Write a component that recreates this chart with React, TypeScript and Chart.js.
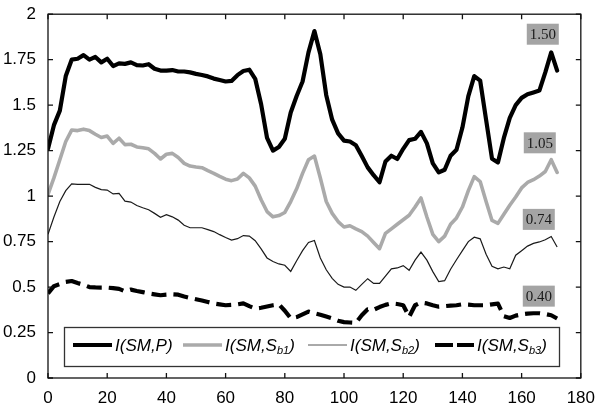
import { useEffect, useRef } from "react";
import { Chart, registerables } from "chart.js";

Chart.register(...registerables);

// Time index (horizontal axis)
const steps = [
  0, 2, 4, 6, 8, 10, 12, 14, 16, 18, 20, 22, 24, 26, 28, 30, 32, 34, 36, 38,
  40, 42, 44, 46, 48, 50, 52, 54, 56, 58, 60, 62, 64, 66, 68, 70, 72, 74, 76, 78,
  80, 82, 84, 86, 88, 90, 92, 94, 96, 98, 100, 102, 104, 106, 108, 110, 112, 114, 116, 118,
  120, 122, 124, 126, 128, 130, 132, 134, 136, 138, 140, 142, 144, 146, 148, 150, 152, 154, 156, 158,
  160, 162, 164, 166, 168, 170, 172,
];

// I(SM,P)
const seriesP = [
  1.26, 1.39, 1.47, 1.66, 1.75, 1.755, 1.775, 1.75, 1.765, 1.735, 1.755, 1.715, 1.73, 1.727, 1.735, 1.72, 1.718, 1.725, 1.70, 1.69,
  1.69, 1.693, 1.685, 1.685, 1.68, 1.672, 1.666, 1.658, 1.646, 1.638, 1.63, 1.633, 1.665, 1.688, 1.695, 1.645, 1.505, 1.32, 1.25, 1.27,
  1.315, 1.46, 1.55, 1.63, 1.79, 1.907, 1.78, 1.555, 1.42, 1.345, 1.305, 1.30, 1.28, 1.22, 1.158, 1.115, 1.076, 1.19, 1.222, 1.204,
  1.26, 1.308, 1.315, 1.353, 1.29, 1.18, 1.13, 1.145, 1.222, 1.255, 1.377, 1.55, 1.66, 1.635, 1.42, 1.205, 1.185, 1.32, 1.43, 1.50,
  1.54, 1.56, 1.57, 1.58, 1.68, 1.79, 1.69,
];

// I(SM,S_b1)
const seriesSb1 = [
  1.01, 1.10, 1.20, 1.30, 1.363, 1.36, 1.368, 1.36, 1.34, 1.322, 1.33, 1.29, 1.318, 1.283, 1.285, 1.27, 1.266, 1.26, 1.235, 1.204,
  1.23, 1.235, 1.212, 1.18, 1.165, 1.16, 1.156, 1.14, 1.125, 1.108, 1.093, 1.085, 1.094, 1.125, 1.10, 1.055, 0.98, 0.915, 0.886, 0.893,
  0.91, 0.97, 1.04, 1.125, 1.20, 1.22, 1.10, 0.97, 0.905, 0.86, 0.83, 0.837, 0.82, 0.805, 0.78, 0.745, 0.711, 0.795, 0.82, 0.845,
  0.87, 0.895, 0.94, 0.99, 0.885, 0.79, 0.75, 0.78, 0.845, 0.88, 0.94, 1.03, 1.107, 1.08, 0.97, 0.866, 0.85, 0.90, 0.95, 0.995,
  1.045, 1.075, 1.09, 1.11, 1.135, 1.20, 1.13,
];

// I(SM,S_b2)
const seriesSb2 = [
  0.79, 0.885, 0.97, 1.03, 1.067, 1.065, 1.065, 1.065, 1.048, 1.036, 1.033, 1.012, 1.015, 0.972, 0.967, 0.948, 0.936, 0.925, 0.905, 0.884,
  0.898, 0.886, 0.868, 0.84, 0.826, 0.826, 0.826, 0.816, 0.805, 0.788, 0.772, 0.758, 0.766, 0.783, 0.78, 0.755, 0.71, 0.66, 0.64, 0.627,
  0.62, 0.586, 0.645, 0.70, 0.745, 0.756, 0.66, 0.595, 0.548, 0.515, 0.50, 0.50, 0.482, 0.515, 0.546, 0.52, 0.52, 0.56, 0.60, 0.605,
  0.618, 0.592, 0.648, 0.692, 0.648, 0.585, 0.53, 0.535, 0.598, 0.65, 0.70, 0.75, 0.774, 0.765, 0.68, 0.614, 0.60, 0.61, 0.60, 0.675,
  0.70, 0.725, 0.74, 0.748, 0.76, 0.778, 0.72,
];

// I(SM,S_b3)
const seriesSb3 = [
  0.465, 0.505, 0.516, 0.528, 0.533, 0.522, 0.512, 0.50, 0.498, 0.497, 0.497, 0.494, 0.49, 0.477, 0.486, 0.478, 0.472, 0.465, 0.46, 0.455,
  0.458, 0.46, 0.458, 0.448, 0.44, 0.433, 0.426, 0.418, 0.41, 0.405, 0.40, 0.402, 0.405, 0.41, 0.395, 0.382, 0.386, 0.393, 0.40, 0.405,
  0.37, 0.328, 0.335, 0.35, 0.365, 0.356, 0.348, 0.338, 0.328, 0.315, 0.307, 0.305, 0.303, 0.345, 0.378, 0.375, 0.39, 0.402, 0.41, 0.407,
  0.40, 0.336, 0.40, 0.415, 0.41, 0.40, 0.392, 0.395, 0.398, 0.40, 0.405, 0.403, 0.40, 0.40, 0.40, 0.405, 0.409, 0.34, 0.33, 0.343,
  0.35, 0.354, 0.356, 0.356, 0.352, 0.345, 0.327,
];

// Mean value tags shown at the right end of each curve
const meanTags = ["1.50", "1.05", "0.74", "0.40"];

const xTicks = [0, 20, 40, 60, 80, 100, 120, 140, 160, 180];
const xTickLabels = ["0", "20", "40", "60", "80", "100", "120", "140", "160", "180"];
const yTicks = [0, 0.25, 0.5, 0.75, 1, 1.25, 1.5, 1.75, 2];
const yTickLabels = ["0", "0.25", "0.5", "0.75", "1", "1.25", "1.5", "1.75", "2"];

const SANS = "'Liberation Sans', Arial, Helvetica, sans-serif";
const SERIF = "'Liberation Serif', 'Times New Roman', serif";

const toPoints = (vals: number[]) => steps.map((x, i) => ({ x, y: vals[i] }));

// Boxed axes with inward ticks on all four sides
const framePlugin = {
  id: "frameTicks",
  afterDatasetsDraw(chart: any) {
    const { ctx, chartArea, scales } = chart;
    const { left, right, top, bottom } = chartArea;
    const tl = 5;
    ctx.save();
    ctx.strokeStyle = "#111";
    ctx.lineWidth = 1.3;
    ctx.beginPath();
    xTicks.forEach((v) => {
      const px = scales.x.getPixelForValue(v);
      ctx.moveTo(px, bottom);
      ctx.lineTo(px, bottom - tl);
      ctx.moveTo(px, top);
      ctx.lineTo(px, top + tl);
    });
    yTicks.forEach((v) => {
      const py = scales.y.getPixelForValue(v);
      ctx.moveTo(left, py);
      ctx.lineTo(left + tl, py);
      ctx.moveTo(right, py);
      ctx.lineTo(right - tl, py);
    });
    ctx.stroke();
    ctx.strokeRect(left, top, right - left, bottom - top);
    ctx.restore();
  },
};

// Grey value tags anchored in data coordinates
const tagPlugin = {
  id: "meanTags",
  afterDraw(chart: any) {
    const { ctx, scales } = chart;
    const anchorX = 165.8;
    const anchorY = [1.89, 1.293, 0.872, 0.45];
    ctx.save();
    ctx.font = `15px ${SERIF}`;
    ctx.textAlign = "center";
    ctx.textBaseline = "middle";
    meanTags.forEach((t, i) => {
      const cx = scales.x.getPixelForValue(anchorX) + (i === 0 ? 4 : i === 1 ? 1 : 0);
      const cy = scales.y.getPixelForValue(anchorY[i]);
      const w = 32;
      const h = 21;
      ctx.fillStyle = "#a4a4a4";
      ctx.fillRect(cx - w / 2, cy - h / 2, w, h);
      ctx.fillStyle = "#1a1a1a";
      ctx.fillText(t, cx, cy + 1);
    });
    ctx.restore();
  },
};

// Legend with subscripted labels, boxed inside the plot
const legendPlugin = {
  id: "subLegend",
  afterDraw(chart: any) {
    const { ctx } = chart;
    const bx = 64.5;
    const by = 327.5;
    const bw = 495;
    const bh = 39;
    ctx.save();
    ctx.fillStyle = "#fff";
    ctx.fillRect(bx, by, bw, bh);
    ctx.strokeStyle = "#333";
    ctx.lineWidth = 1.3;
    ctx.strokeRect(bx, by, bw, bh);

    const cy = by + bh / 2 - 2;
    const items = [
      { start: 73, color: "#000", width: 4, dash: [] as number[], sub: "" },
      { start: 183, color: "#aaaaaa", width: 3.5, dash: [] as number[], sub: "b1" },
      { start: 308, color: "#555", width: 1, dash: [] as number[], sub: "b2" },
      { start: 435, color: "#000", width: 4, dash: [18, 4], sub: "b3" },
    ];
    const lineLen = 39;
    items.forEach((it) => {
      ctx.beginPath();
      ctx.strokeStyle = it.color;
      ctx.lineWidth = it.width;
      ctx.setLineDash(it.dash);
      ctx.moveTo(it.start, cy);
      ctx.lineTo(it.start + lineLen, cy);
      ctx.stroke();
      ctx.setLineDash([]);

      let tx = it.start + lineLen + 3;
      ctx.fillStyle = "#000";
      ctx.textAlign = "left";
      ctx.textBaseline = "middle";
      ctx.font = `italic 17px ${SANS}`;
      const head = it.sub ? "I(SM,S" : "I(SM,P)";
      ctx.fillText(head, tx, cy + 1);
      tx += ctx.measureText(head).width;
      if (it.sub) {
        ctx.font = `italic 11px ${SANS}`;
        ctx.fillText(it.sub, tx, cy + 6);
        tx += ctx.measureText(it.sub).width;
        ctx.font = `italic 17px ${SANS}`;
        ctx.fillText(")", tx, cy + 1);
      }
    });
    ctx.restore();
  },
};

export default function App() {
  const canvasRef = useRef<HTMLCanvasElement | null>(null);

  useEffect(() => {
    if (!canvasRef.current) return;
    const chart = new Chart(canvasRef.current, {
      type: "line",
      data: {
        datasets: [
          {
            label: "I(SM,P)",
            data: toPoints(seriesP),
            borderColor: "#000",
            borderWidth: 4.2,
            pointRadius: 0,
            tension: 0,
            borderJoinStyle: "round",
            borderCapStyle: "round",
          },
          {
            label: "I(SM,Sb1)",
            data: toPoints(seriesSb1),
            borderColor: "#aaaaaa",
            borderWidth: 3.6,
            pointRadius: 0,
            tension: 0,
            borderJoinStyle: "round",
            borderCapStyle: "round",
          },
          {
            label: "I(SM,Sb2)",
            data: toPoints(seriesSb2),
            borderColor: "#1a1a1a",
            borderWidth: 1.2,
            pointRadius: 0,
            tension: 0,
          },
          {
            label: "I(SM,Sb3)",
            data: toPoints(seriesSb3),
            borderColor: "#000",
            borderWidth: 4.2,
            borderDash: [15, 7],
            pointRadius: 0,
            tension: 0,
            borderJoinStyle: "round",
          },
        ],
      },
      options: {
        animation: false,
        responsive: false,
        devicePixelRatio: 1,
        layout: { padding: { left: 0, top: 13, right: 15, bottom: 0 } },
        plugins: {
          legend: { display: false },
          tooltip: { enabled: false },
        },
        scales: {
          x: {
            type: "linear",
            min: 0,
            max: 180,
            afterFit: (s: any) => {
              s.height = 28;
            },
            afterBuildTicks: (s: any) => {
              s.ticks = xTicks.map((v) => ({ value: v }));
            },
            grid: { display: false },
            border: { display: false },
            ticks: {
              color: "#000",
              padding: 2,
              maxRotation: 0,
              font: { family: SANS, size: 17 },
              callback: (v: any) => {
                const i = xTicks.indexOf(Number(v));
                return i >= 0 ? xTickLabels[i] : "";
              },
            },
          },
          y: {
            type: "linear",
            min: 0,
            max: 2,
            afterFit: (s: any) => {
              s.width = 48;
            },
            afterBuildTicks: (s: any) => {
              s.ticks = yTicks.map((v) => ({ value: v }));
            },
            grid: { display: false },
            border: { display: false },
            ticks: {
              color: "#000",
              padding: 4,
              font: { family: SANS, size: 17 },
              callback: (v: any) => {
                const i = yTicks.indexOf(Number(v));
                return i >= 0 ? yTickLabels[i] : "";
              },
            },
          },
        },
      },
      plugins: [framePlugin, legendPlugin, tagPlugin],
    });
    return () => chart.destroy();
  }, []);

  return (
    <div style={{ position: "absolute", left: 0, top: 0, width: 597, height: 406, background: "#fff" }}>
      <canvas ref={canvasRef} width={597} height={406} />
    </div>
  );
}
